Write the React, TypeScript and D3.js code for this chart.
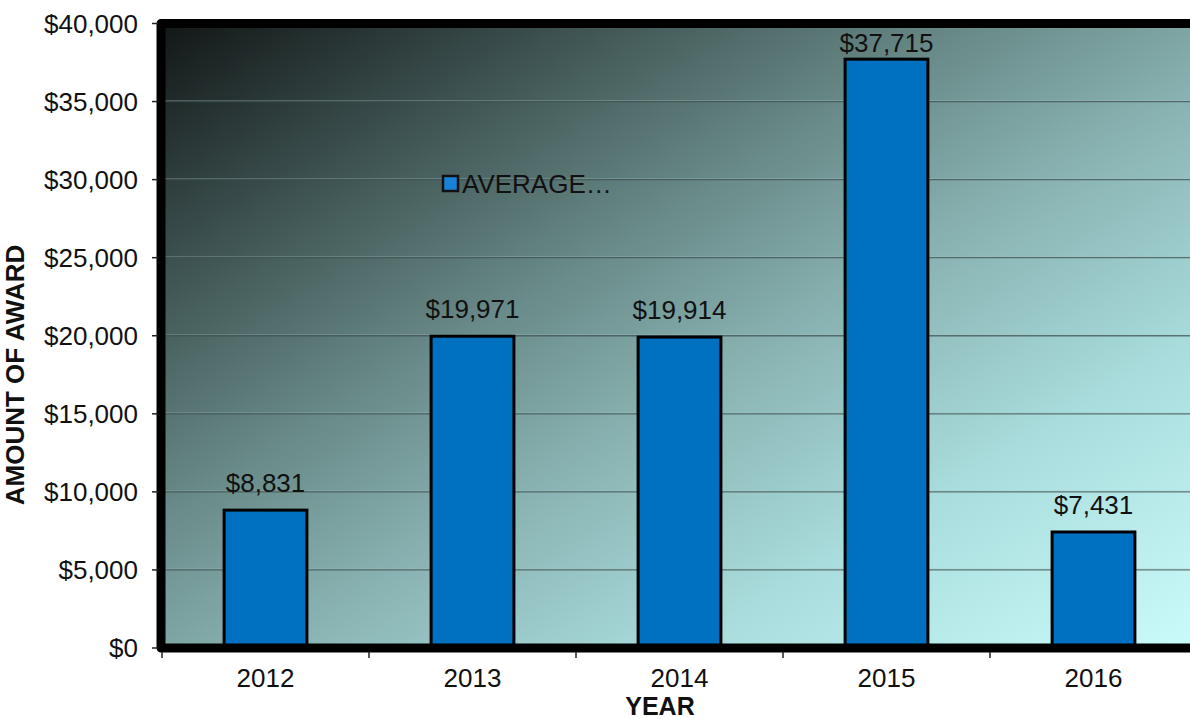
import React from "react";
import * as d3 from "d3";

const years = ["2012", "2013", "2014", "2015", "2016"];
const averages = [8831, 19971, 19914, 37715, 7431];
const yTicks = [0, 5000, 10000, 15000, 20000, 25000, 30000, 35000, 40000];
const seriesName = "AVERAGE…";
const yTitle = "AMOUNT OF AWARD";
const xTitle = "YEAR";

const W = 1190;
const H = 719;
const plotLeft = 161;
const plotRight = 1201;
const plotTop = 23.5;
const plotBottom = 648;
const FONT = "'Liberation Sans', Arial, sans-serif";

export default function App() {
  const x = d3.scaleBand<string>().domain(years).range([162, 1197]).padding(0);
  const y = d3.scaleLinear().domain([0, 40000]).range([plotBottom, plotTop]);
  const fmt = d3.format("$,.0f");
  const bw = x.bandwidth() * 0.4;
  const boundaries = years.map((d) => x(d) as number);

  return (
    <svg
      width={W}
      height={H}
      style={{ position: "absolute", left: 0, top: 0, background: "#fff" }}
      fontFamily={FONT}
    >
      <defs>
        <linearGradient id="bg" x1="0" y1="0" x2="1" y2="1">
          <stop offset="0" stopColor="#121616" />
          <stop offset="0.2" stopColor="#3d5251" />
          <stop offset="0.4" stopColor="#6a8c8a" />
          <stop offset="0.55" stopColor="#88b2b1" />
          <stop offset="0.75" stopColor="#a9dcdc" />
          <stop offset="1" stopColor="#cbfcfc" />
        </linearGradient>
      </defs>
      <rect
        x={plotLeft}
        y={plotTop}
        width={plotRight - plotLeft}
        height={plotBottom - plotTop}
        fill="url(#bg)"
      />
      {yTicks.slice(1).map((t) => (
        <g key={t}>
          <line
            x1={plotLeft}
            x2={plotRight}
            y1={y(t) - 1}
            y2={y(t) - 1}
            stroke="#a8c4c4"
            strokeOpacity={0.35}
            strokeWidth={1}
          />
          <line
            x1={plotLeft}
            x2={plotRight}
            y1={y(t)}
            y2={y(t)}
            stroke="#3e5252"
            strokeOpacity={0.75}
            strokeWidth={1.3}
          />
        </g>
      ))}
      {years.map((yr, i) => {
        const cx = (x(yr) as number) + x.bandwidth() / 2;
        const top = y(averages[i]);
        const labelY = Math.max(top - 18, 52);
        return (
          <g key={yr}>
            <rect
              x={cx - bw / 2}
              y={top}
              width={bw}
              height={plotBottom - top}
              fill="#0070c0"
              stroke="#000"
              strokeWidth={3}
            />
            <text
              x={cx}
              y={labelY}
              textAnchor="middle"
              fontSize={26}
              fill="#111"
            >
              {fmt(averages[i])}
            </text>
          </g>
        );
      })}
      {/* plot border */}
      <path
        d={`M${plotRight},${plotTop} H${plotLeft} V${plotBottom} H${plotRight}`}
        fill="none"
        stroke="#000"
        strokeWidth={9}
        strokeLinejoin="round"
      />
      {/* y ticks and labels */}
      {yTicks.map((t) => (
        <g key={t}>
          <line x1={152} x2={158} y1={y(t)} y2={y(t)} stroke="#222" strokeWidth={1.5} />
          <text
            x={138}
            y={y(t)}
            dy="0.35em"
            textAnchor="end"
            fontSize={26}
            fill="#111"
          >
            {fmt(t)}
          </text>
        </g>
      ))}
      {/* x ticks and labels */}
      {[...boundaries, 1197].map((b, i) => (
        <line key={i} x1={b} x2={b} y1={652} y2={658} stroke="#222" strokeWidth={1.5} />
      ))}
      {years.map((yr) => (
        <text
          key={yr}
          x={(x(yr) as number) + x.bandwidth() / 2}
          y={687}
          textAnchor="middle"
          fontSize={26}
          fill="#111"
        >
          {yr}
        </text>
      ))}
      {/* legend */}
      <rect x={443} y={176} width={15} height={15} fill="#1a82d6" stroke="#111" strokeWidth={2.5} />
      <text x={462} y={193} fontSize={26} fill="#111">
        {seriesName}
      </text>
      {/* axis titles */}
      <text
        transform={`translate(24,375) rotate(-90)`}
        textAnchor="middle"
        fontSize={26}
        fontWeight="bold"
        fill="#111"
      >
        {yTitle}
      </text>
      <text x={660} y={715} textAnchor="middle" fontSize={25} fontWeight="bold" fill="#111">
        {xTitle}
      </text>
    </svg>
  );
}
